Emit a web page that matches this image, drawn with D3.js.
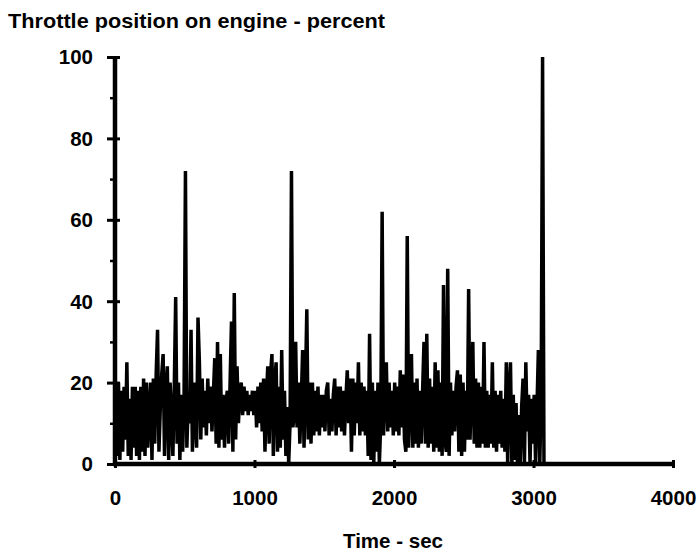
<!DOCTYPE html>
<html><head><meta charset="utf-8">
<script src="https://cdn.jsdelivr.net/npm/d3@7/dist/d3.min.js"></script>
<style>
body{margin:0;background:#fff;}
svg text{font-family:"Liberation Sans",Arial,Helvetica,sans-serif;fill:#000;}
</style></head>
<body><svg id="c" width="700" height="554"></svg>
<script>
// Throttle position (%) sampled every 10 s starting at 5 s
const timeStart = 5, timeStep = 10;
const throttle = [
 20,2,20,1,18,3,19,6,25,2,
 16,1,19,4,19,2,18,1,19,3,
 21,2,20,4,13,20,1,21,5,22,
 33,3,14,22,27,2,18,24,1,20,
 12,2,19,41,5,20,1,17,3,16,
 72,4,15,10,33,3,20,12,4,36,
 25,6,21,9,18,7,21,10,19,8,
 17,26,5,30,4,27,6,17,4,15,
 18,5,20,35,3,42,6,24,10,18,
 20,12,19,13,18,12,17,13,18,12,
 18,9,19,10,20,8,21,3,16,24,
 5,22,27,2,20,25,3,19,4,28,
 6,18,2,14,0,10,72,9,12,30,
 9,20,5,15,28,4,19,38,6,20,
 5,20,7,18,8,19,7,17,9,17,
 8,18,20,7,16,8,17,21,7,19,
 9,19,8,18,7,16,23,10,21,3,
 21,7,20,10,25,7,20,8,19,7,
 18,2,32,1,20,0,18,3,20,0,
 10,62,7,17,25,8,20,9,18,7,
 20,8,19,7,23,9,22,6,3,56,
 4,16,27,4,20,5,21,4,18,5,
 18,30,5,32,4,21,5,19,3,25,
 4,23,3,20,2,44,6,3,48,2,
 20,7,18,8,19,23,3,22,2,20,
 3,18,6,43,6,18,30,5,21,4,
 20,4,19,5,30,4,18,4,17,5,
 25,4,18,3,17,5,18,4,16,3,
 25,0,18,25,0,17,1,15,0,12,
 0,14,21,0,25,8,17,0,16,5,
 17,0,14,28,0,16,100,0,0,0
];
const xTicks = [0,1000,2000,3000,4000];
const yTicks = [0,20,40,60,80,100];
const yMinorTicks = [10,30,50,70,90];
const title = "Throttle position on engine - percent";
const xTitle = "Time - sec";

const svg = d3.select("#c");
const x = d3.scaleLinear().domain([0,4000]).range([115,673]);
const y = d3.scaleLinear().domain([0,100]).range([464,57]);

const data = throttle.map((v,i)=>({t:timeStart+i*timeStep, v}));

// data line
svg.append("path").datum(data)
  .attr("fill","none").attr("stroke","#000").attr("stroke-width",3.5)
  .attr("stroke-linejoin","miter").attr("stroke-miterlimit",1)
  .attr("d", d3.line().x(d=>x(d.t)).y(d=>y(d.v)));

// Y axis
const gy = svg.append("g").attr("transform","translate(115,0)");
gy.call(d3.axisLeft(y).tickValues(yTicks).tickSize(8).tickPadding(14).tickFormat(d3.format("d")));
gy.select(".domain").attr("stroke","#000").attr("stroke-width",4.5).attr("d","M0,"+(y(100)-1)+"V"+(y(0)+2));
gy.selectAll(".tick line").attr("stroke","#000").attr("stroke-width",3).attr("x1",5);
gy.selectAll(".tick text").attr("font-size",20.5).attr("font-weight","bold").attr("dy","0.34em");
const gym = svg.append("g").attr("transform","translate(115,0)");
gym.call(d3.axisLeft(y).tickValues(yMinorTicks).tickSize(5).tickFormat(""));
gym.select(".domain").remove();
gym.selectAll(".tick line").attr("stroke","#000").attr("stroke-width",2.5);

// X axis
const gx = svg.append("g").attr("transform","translate(0,464)");
gx.call(d3.axisBottom(x).tickValues(xTicks).tickSize(4).tickPadding(22).tickFormat(d3.format("d")));
gx.select(".domain").attr("stroke","#000").attr("stroke-width",4.5).attr("d","M"+(x(0)-2)+",0H"+(x(4000)+2));
gx.selectAll(".tick line").attr("stroke","#000").attr("stroke-width",3).attr("y1",-4);
gx.selectAll(".tick text").attr("font-size",20.5).attr("font-weight","bold");

// titles
svg.append("text").attr("x",8).attr("y",28).attr("font-size",21).attr("font-weight","bold")
  .attr("textLength",377).attr("lengthAdjust","spacingAndGlyphs").text(title);
svg.append("text").attr("x",393).attr("y",548).attr("text-anchor","middle").attr("font-size",20.5).attr("font-weight","bold")
  .attr("textLength",100).attr("lengthAdjust","spacingAndGlyphs").text(xTitle);
</script></body></html>
